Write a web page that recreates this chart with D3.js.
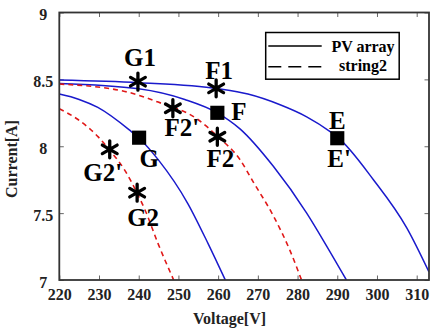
<!DOCTYPE html>
<html>
<head>
<meta charset="utf-8">
<script src="https://cdn.jsdelivr.net/npm/d3@7"></script>
<style>
  html, body { margin: 0; padding: 0; background: #fff; }
  svg text { font-family: "Liberation Serif", "Times New Roman", serif; font-weight: bold; }
</style>
</head>
<body>
<svg id="chart" width="441" height="333"></svg>
<script>
// Axis ticks
const xTicks = [220, 230, 240, 250, 260, 270, 280, 290, 300, 310];
const yTicks = [7, 7.5, 8, 8.5, 9];

// PV array I-V curves (solid blue)
const pvE_V = [220, 240, 260, 267.5, 275.6, 282.3, 288.2, 290, 299.1, 307.5, 313.1];
const pvE_I = [8.495, 8.475, 8.43, 8.39, 8.31, 8.22, 8.11, 8.07, 7.75, 7.39, 7.06];
const pvF_V = [220, 240, 251.6, 259.8, 265.5, 273.9, 282.3, 287.4, 292.3];
const pvF_I = [8.47, 8.43, 8.35, 8.25, 8.13, 7.85, 7.50, 7.25, 7.0];
const pvG_V = [220, 225, 229.7, 237.7, 240.1, 244.9, 252.4, 257.5, 261.8];
const pvG_I = [8.39, 8.35, 8.29, 8.12, 8.06, 7.90, 7.57, 7.27, 7.0];

// string2 I-V curves (dashed red)
const s2F_V = [220, 236.5, 244.9, 254.9, 260, 265.5, 268.9, 273.9, 278.1, 281];
const s2F_I = [8.465, 8.41, 8.33, 8.20, 8.07, 7.90, 7.73, 7.48, 7.22, 7.0];
const s2G_V = [220, 224.7, 229.8, 232.7, 236.5, 239.6, 241.5, 244.9, 248.8];
const s2G_I = [8.28, 8.20, 8.07, 7.97, 7.82, 7.65, 7.53, 7.27, 7.0];

// Operating points (filled squares)
const squareNames = ["E", "F", "G"];
const squareV = [290, 259.8, 240.1];
const squareI = [8.06, 8.25, 8.064];

// Operating points (asterisks)
const starNames = ["G1", "F1", "F2'", "F2", "G2'", "G2"];
const starV = [239.8, 259.5, 248.6, 259.8, 232.7, 239.6];
const starI = [8.483, 8.433, 8.284, 8.071, 7.977, 7.653];

// Point labels: text, anchor point (V, I), pixel offset, anchor
const labelText = ["G1", "F1", "F", "F2'", "F2", "G", "G2'", "G2", "E", "E'"];
const labelV = [239.8, 259.5, 259.8, 248.6, 259.8, 240.1, 232.7, 239.6, 290, 290];
const labelI = [8.483, 8.433, 8.25, 8.284, 8.071, 8.064, 7.977, 7.653, 8.06, 8.06];
const labelDx = [2, 3, 14, 9, 3, 10, -7, 6, 0, -10];
const labelDy = [-16, -9, 7.5, 28, 30, 29.5, 32, 33, -9, 29];
const labelAnchor = ["middle", "middle", "start", "middle", "middle", "middle", "middle", "middle", "middle", "start"];

const svg = d3.select("#chart");
const x = d3.scaleLinear().domain([220, 313.1]).range([59.3, 429]);
const y = d3.scaleLinear().domain([7, 9]).range([280, 12.5]);

const [x0, x1] = x.range();
const [y0, y1] = [y(9), y(7)];

svg.append("clipPath").attr("id", "plot-clip")
  .append("rect").attr("x", x0).attr("y", y0).attr("width", x1 - x0).attr("height", y1 - y0);

// Ticks (inward on all four sides)
const tickLen = 4.5;
function styleAxis(g) {
  g.select(".domain").remove();
  g.selectAll(".tick line").attr("stroke", "#666").attr("stroke-width", 1);
  g.selectAll(".tick text").attr("fill", "#222").attr("font-size", 16)
    .attr("font-family", "Liberation Serif, serif").attr("font-weight", "bold");
}
svg.append("g").attr("transform", `translate(0,${y1})`)
  .call(d3.axisBottom(x).tickValues(xTicks).tickSize(-tickLen).tickPadding(9).tickFormat(d3.format("d")))
  .call(styleAxis);
svg.append("g").attr("transform", `translate(0,${y0})`)
  .call(d3.axisTop(x).tickValues(xTicks).tickSize(-tickLen).tickFormat(""))
  .call(styleAxis);
svg.append("g").attr("transform", `translate(${x0},0)`)
  .call(d3.axisLeft(y).tickValues(yTicks).tickSize(-tickLen).tickFormat(d => String(d)))
  .call(styleAxis)
  .call(g => g.selectAll(".tick text").attr("text-anchor", "middle").attr("x", -16).attr("dy", "0.45em"));
svg.append("g").attr("transform", `translate(${x1},0)`)
  .call(d3.axisRight(y).tickValues(yTicks).tickSize(-tickLen).tickFormat(""))
  .call(styleAxis);

// Curves
const line = d3.line().x(d => x(d[0])).y(d => y(d[1])).curve(d3.curveMonotoneX);
const curves = svg.append("g").attr("clip-path", "url(#plot-clip)");
[[pvE_V, pvE_I], [pvF_V, pvF_I], [pvG_V, pvG_I]].forEach(([vs, is]) => {
  curves.append("path").datum(d3.zip(vs, is)).attr("d", line)
    .attr("fill", "none").attr("stroke", "#1a1acc").attr("stroke-width", 1.5);
});
[[s2F_V, s2F_I], [s2G_V, s2G_I]].forEach(([vs, is]) => {
  curves.append("path").datum(d3.zip(vs, is)).attr("d", line)
    .attr("fill", "none").attr("stroke", "#e01818").attr("stroke-width", 1.6)
    .attr("stroke-dasharray", "5,4");
});

// Frame
svg.append("rect").attr("x", x0).attr("y", y0).attr("width", x1 - x0).attr("height", y1 - y0)
  .attr("fill", "none").attr("stroke", "#333").attr("stroke-width", 1.8);

// Markers
svg.append("g").selectAll("path.sq").data(d3.range(squareNames.length)).join("path")
  .attr("transform", i => `translate(${x(squareV[i])},${y(squareI[i])})`)
  .attr("d", d3.symbol(d3.symbolSquare, 200)).attr("fill", "#000");
svg.append("g").selectAll("path.st").data(d3.range(starNames.length)).join("path")
  .attr("transform", i => `translate(${x(starV[i])},${y(starI[i])})`)
  .attr("d", d3.symbol(d3.symbolAsterisk, 205))
  .attr("fill", "none").attr("stroke", "#000").attr("stroke-width", 3.3).attr("stroke-linecap", "round");

// Point labels
svg.append("g").selectAll("text").data(d3.range(labelText.length)).join("text")
  .attr("x", i => x(labelV[i]) + labelDx[i])
  .attr("y", i => y(labelI[i]) + labelDy[i])
  .attr("text-anchor", i => labelAnchor[i])
  .attr("font-size", 25).attr("fill", "#000")
  .text(i => labelText[i]);

// Axis titles
svg.append("text").attr("x", 229.5).attr("y", 324).attr("text-anchor", "middle")
  .attr("font-size", 16).attr("fill", "#222").text("Voltage[V]");
svg.append("text").attr("transform", "translate(17,159) rotate(-90)").attr("text-anchor", "middle")
  .attr("font-size", 16).attr("fill", "#222").text("Current[A]");

// Legend
const legend = svg.append("g");
legend.append("rect").attr("x", 265.7).attr("y", 32.5).attr("width", 133.5).attr("height", 46.7)
  .attr("fill", "#fff").attr("stroke", "#000").attr("stroke-width", 1.5);
legend.append("line").attr("x1", 268.3).attr("x2", 321.7).attr("y1", 46).attr("y2", 46)
  .attr("stroke", "#000").attr("stroke-width", 1.5);
legend.append("line").attr("x1", 268.3).attr("x2", 321.7).attr("y1", 66.7).attr("y2", 66.7)
  .attr("stroke", "#000").attr("stroke-width", 1.5).attr("stroke-dasharray", "13,7");
legend.append("text").attr("x", 363).attr("y", 52).attr("text-anchor", "middle")
  .attr("font-size", 16).attr("fill", "#000").text("PV array");
legend.append("text").attr("x", 363).attr("y", 71).attr("text-anchor", "middle")
  .attr("font-size", 16).attr("fill", "#000").text("string2");
</script>
</body>
</html>
